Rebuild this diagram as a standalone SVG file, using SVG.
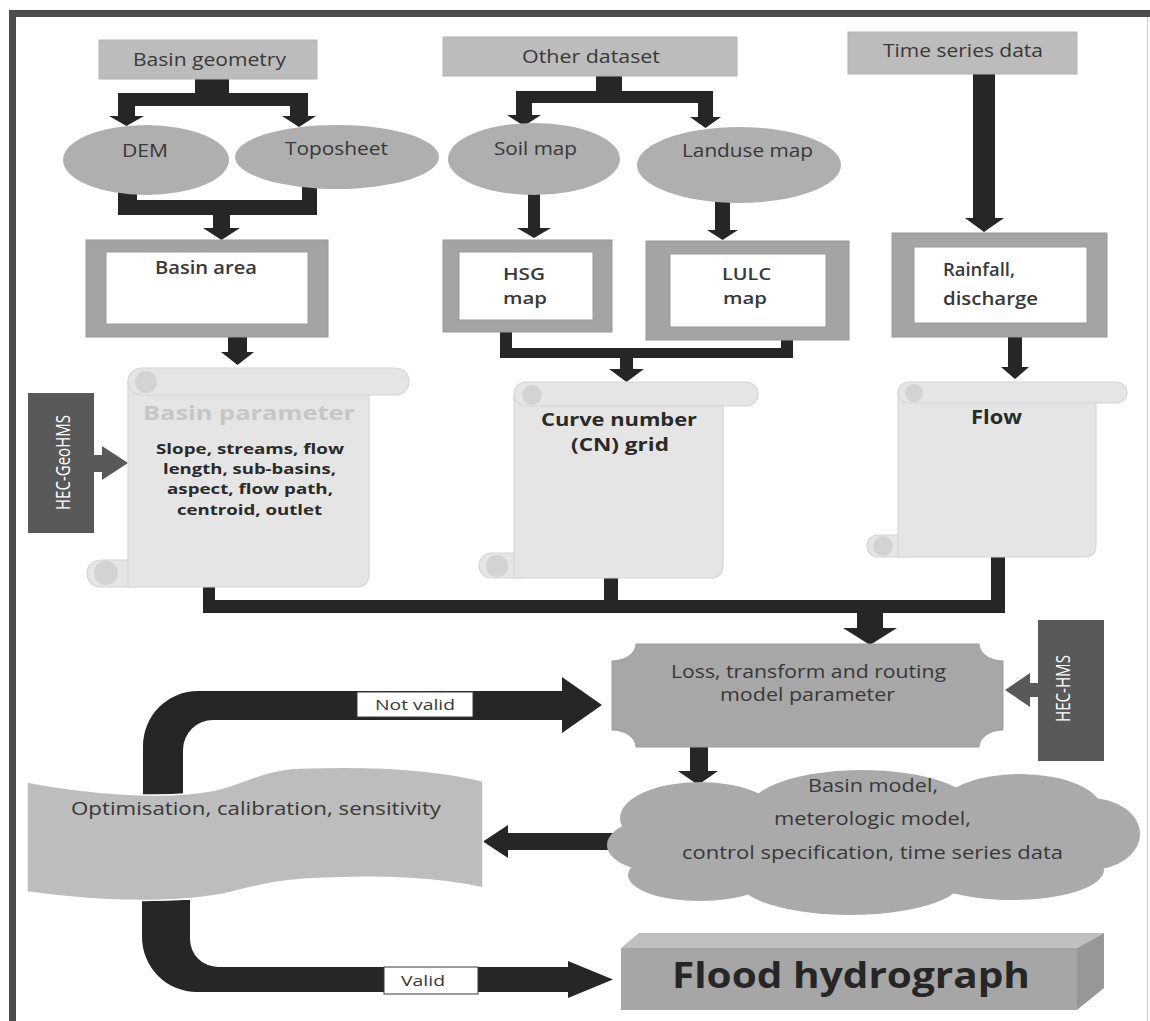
<svg xmlns="http://www.w3.org/2000/svg" width="1150" height="1021" viewBox="0 0 1150 1021">
<style>
text{font-family:"Open Sans","Noto Sans","Liberation Sans",sans-serif;fill:#383838;font-size:18px}
.c{text-anchor:middle}
.b{font-weight:bold;fill:#2a2a2a}
.sb{font-weight:600}
.w{fill:#ffffff}
.f14{font-size:14px}
.f15{font-size:15px}
.f17{font-size:17px}
.f19{font-size:19px}
.f20{font-size:20px}
.f36{font-size:36px}
.arr{fill:#262626}
.hec{fill:#595959}
.top{fill:#bcbcbc;stroke:#b2b2b2;stroke-width:1}
.ell{fill:#afafaf}
.frame{fill:#a4a4a4;stroke:#989898;stroke-width:1}
.inner{fill:#ffffff;stroke:#9a9a9a;stroke-width:1}
.scroll{fill:#e5e5e5;stroke:#d6d6d6;stroke-width:1.2}
.curl{fill:#d3d3d3}
.lbl{fill:#ffffff;stroke:#3a3a3a;stroke-width:1}
</style>
<rect x="0" y="0" width="1150" height="1021" fill="#ffffff"/>
<g id="page-frame">
<rect x="9" y="10" width="1141" height="7" fill="#4d4d4d"/>
<rect x="9" y="10" width="7" height="1011" fill="#4d4d4d"/>
<line x1="1147.5" y1="17" x2="1147.5" y2="1021" stroke="#cfcfcf" stroke-width="1"/>
</g>

<g id="connectors">
<!-- Basin geometry fork -->
<rect class="arr" x="195" y="79" width="34" height="20"/>
<rect class="arr" x="118" y="93" width="190" height="13"/>
<path class="arr" d="M118,93 L135,93 L135,116 L144,116 L126.5,126 L109,116 L118,116 Z"/>
<path class="arr" d="M290,93 L308,93 L308,116 L316,116 L299,127 L282,116 L290,116 Z"/>
<!-- DEM / Toposheet merge -->
<rect class="arr" x="118" y="188" width="19" height="27"/>
<rect class="arr" x="302" y="185" width="15" height="30"/>
<rect class="arr" x="118" y="200" width="199" height="15"/>
<path class="arr" d="M213,215 L230,215 L230,228 L240,228 L221.5,240 L203,228 L213,228 Z"/>
<!-- Basin area -> Basin parameter -->
<path class="arr" d="M228,337 L247,337 L247,352 L254,352 L237.5,365 L221,352 L228,352 Z"/>
<!-- Other dataset fork -->
<rect class="arr" x="596" y="76" width="26" height="20"/>
<rect class="arr" x="516" y="91" width="197" height="12"/>
<path class="arr" d="M516,91 L532,91 L532,115 L541,115 L524,126 L507,115 L516,115 Z"/>
<path class="arr" d="M698,91 L713,91 L713,117 L721,117 L705.5,128 L690,117 L698,117 Z"/>
<!-- Soil -> HSG, Landuse -> LULC -->
<path class="arr" d="M528,192 L540,192 L540,228 L551,228 L534,238 L517,228 L528,228 Z"/>
<path class="arr" d="M715,200 L730,200 L730,230 L738,230 L722.5,240 L707,230 L715,230 Z"/>
<!-- HSG / LULC merge -->
<rect class="arr" x="500" y="332" width="12" height="26"/>
<rect class="arr" x="781" y="336" width="12" height="22"/>
<rect class="arr" x="500" y="348" width="293" height="10"/>
<path class="arr" d="M620,358 L633,358 L633,369 L644,369 L626.5,382 L609,369 L620,369 Z"/>
<!-- Time series -> Rainfall -->
<path class="arr" d="M973,74 L995,74 L995,218 L1004,218 L984,232 L965,218 L973,218 Z"/>
<!-- Rainfall -> Flow -->
<path class="arr" d="M1008,337 L1022,337 L1022,367 L1029,367 L1015,379 L1001,367 L1008,367 Z"/>
<!-- collector to Loss box -->
<rect class="arr" x="203" y="585" width="12" height="28"/>
<rect class="arr" x="604" y="576" width="14" height="30"/>
<rect class="arr" x="991" y="555" width="14" height="58"/>
<rect class="arr" x="203" y="600" width="802" height="13"/>
<path class="arr" d="M857,613 L883,613 L883,628 L897,628 L870,645 L843,628 L857,628 Z"/>
<!-- HEC-GeoHMS arrow -->
<path class="hec" d="M94,455 L102,455 L102,446 L128,463 L102,480 L102,472 L94,472 Z"/>
<!-- HEC-HMS arrow -->
<path class="hec" d="M1040,683 L1030,683 L1030,673 L1005,690 L1030,707 L1030,697 L1040,697 Z"/>
<!-- Loss -> cloud -->
<path class="arr" d="M690,747 L708,747 L708,771 L718,771 L698,785 L678,771 L690,771 Z"/>
<!-- cloud -> optimisation -->
<path class="arr" d="M620,833 L508,833 L508,825 L483,841.5 L508,858 L508,850 L620,850 Z"/>
<!-- Not valid loop -->
<path class="arr" d="M143,796 L143,746 A55,55 0 0 1 198,691 L562,691 L562,677 L602,705 L562,733 L562,720 L213,720 A30,30 0 0 0 183,750 L183,796 Z"/>
<rect class="lbl" x="357" y="692" width="116" height="25"/>
<text class="c f14" x="415" y="710" textLength="80" lengthAdjust="spacingAndGlyphs">Not valid</text>
<!-- Valid loop -->
<path class="arr" d="M142,900 L142,937 A55,55 0 0 0 197,992 L568,992 L568,998 L613,979.5 L568,961 L568,967 L218,967 A28,28 0 0 1 190,939 L190,900 Z"/>
<rect class="lbl" x="384" y="967" width="94" height="27"/>
<text class="c f14" x="423" y="986" textLength="44" lengthAdjust="spacingAndGlyphs">Valid</text>
</g>

<g id="basin-geometry">
<rect class="top" x="99" y="40" width="218" height="39"/>
<text class="c" x="209.5" y="66" textLength="153" lengthAdjust="spacingAndGlyphs">Basin geometry</text>
</g>
<g id="other-dataset">
<rect class="top" x="443" y="37" width="294" height="39"/>
<text class="c" x="591" y="63" textLength="138" lengthAdjust="spacingAndGlyphs">Other dataset</text>
</g>
<g id="time-series-data">
<rect class="top" x="848" y="32" width="229" height="42"/>
<text class="c" x="963" y="57" textLength="160" lengthAdjust="spacingAndGlyphs">Time series data</text>
</g>

<g id="dem">
<ellipse class="ell" cx="146" cy="160" rx="83" ry="35"/>
<text class="c" x="145" y="157" textLength="46" lengthAdjust="spacingAndGlyphs">DEM</text>
</g>
<g id="toposheet">
<ellipse class="ell" cx="337" cy="157" rx="102" ry="32"/>
<text class="c" x="336.5" y="155" textLength="103" lengthAdjust="spacingAndGlyphs">Toposheet</text>
</g>
<g id="soil-map">
<ellipse class="ell" cx="534" cy="159" rx="86" ry="36"/>
<text class="c" x="535.5" y="155" textLength="83" lengthAdjust="spacingAndGlyphs">Soil map</text>
</g>
<g id="landuse-map">
<ellipse class="ell" cx="739" cy="165" rx="102" ry="38"/>
<text class="c" x="747.5" y="157" textLength="131" lengthAdjust="spacingAndGlyphs">Landuse map</text>
</g>

<g id="basin-area">
<rect class="frame" x="86" y="240" width="242" height="97"/>
<rect class="inner" x="106" y="252" width="202" height="72"/>
<text class="c sb" x="206" y="274" textLength="102" lengthAdjust="spacingAndGlyphs">Basin area</text>
</g>
<g id="hsg-map">
<rect class="frame" x="443" y="240" width="169" height="92"/>
<rect class="inner" x="459" y="252" width="134" height="68"/>
<text class="c sb f17" x="524" y="280" textLength="42" lengthAdjust="spacingAndGlyphs">HSG</text>
<text class="c sb f17" x="525" y="304" textLength="44" lengthAdjust="spacingAndGlyphs">map</text>
</g>
<g id="lulc-map">
<rect class="frame" x="646" y="241" width="203" height="99"/>
<rect class="inner" x="670" y="254" width="156" height="73"/>
<text class="c sb f17" x="746.5" y="280" textLength="49" lengthAdjust="spacingAndGlyphs">LULC</text>
<text class="c sb f17" x="745" y="304" textLength="44" lengthAdjust="spacingAndGlyphs">map</text>
</g>
<g id="rainfall-discharge">
<rect class="frame" x="892" y="233" width="215" height="104"/>
<rect class="inner" x="914" y="247" width="173" height="76"/>
<text class="sb" x="943" y="276" textLength="72" lengthAdjust="spacingAndGlyphs">Rainfall,</text>
<text class="sb" x="943" y="305" textLength="95" lengthAdjust="spacingAndGlyphs">discharge</text>
</g>

<g id="hec-geohms">
<rect class="hec" x="28" y="393" width="66" height="140"/>
<text class="c w f20" transform="translate(70,462.5) rotate(-90)" x="0" y="0" textLength="95" lengthAdjust="spacingAndGlyphs">HEC-GeoHMS</text>
</g>

<g id="basin-parameter">
<rect class="scroll" x="87" y="560" width="60" height="27" rx="13.5"/>
<path class="scroll" d="M128,381 L369,381 L369,574 Q369,587 356,587 L128,587 Z"/>
<rect class="scroll" x="128" y="368" width="281" height="27" rx="13.5"/>
<circle class="curl" cx="146" cy="382" r="11"/>
<circle class="curl" cx="106" cy="573" r="12"/>
<text class="c b f20" x="249" y="420" style="fill:#c6c6c6" textLength="212" lengthAdjust="spacingAndGlyphs">Basin parameter</text>
<text class="c b f15" x="250" y="454" textLength="188" lengthAdjust="spacingAndGlyphs">Slope, streams, flow</text>
<text class="c b f15" x="249.5" y="474" textLength="173" lengthAdjust="spacingAndGlyphs">length, sub-basins,</text>
<text class="c b f15" x="250" y="494" textLength="166" lengthAdjust="spacingAndGlyphs">aspect, flow path,</text>
<text class="c b f15" x="249.5" y="515" textLength="145" lengthAdjust="spacingAndGlyphs">centroid, outlet</text>
</g>

<g id="curve-number">
<rect class="scroll" x="479" y="553" width="55" height="25" rx="12.5"/>
<path class="scroll" d="M514,394 L723,394 L723,565 Q723,578 710,578 L514,578 Z"/>
<rect class="scroll" x="514" y="382" width="244" height="24" rx="12"/>
<circle class="curl" cx="532" cy="395" r="10"/>
<circle class="curl" cx="497" cy="566" r="11"/>
<text class="c b" x="619" y="426" textLength="156" lengthAdjust="spacingAndGlyphs">Curve number</text>
<text class="c b" x="620" y="451" textLength="98" lengthAdjust="spacingAndGlyphs">(CN) grid</text>
</g>

<g id="flow">
<rect class="scroll" x="867" y="535" width="50" height="22" rx="11"/>
<path class="scroll" d="M898,392 L1096,392 L1096,545 Q1096,557 1084,557 L898,557 Z"/>
<rect class="scroll" x="898" y="382" width="229" height="21" rx="10.5"/>
<circle class="curl" cx="914" cy="393" r="9"/>
<circle class="curl" cx="883" cy="546" r="10"/>
<text class="c b f19" x="996.5" y="424" textLength="51" lengthAdjust="spacingAndGlyphs">Flow</text>
</g>

<g id="loss-transform-routing">
<path d="M636,644 L979,644 A24,17 0 0 0 1003,661 L1003,730 A24,17 0 0 0 979,747 L636,747 A24,17 0 0 0 612,730 L612,661 A24,17 0 0 0 636,644 Z" fill="#a7a7a7" stroke="#9c9c9c" stroke-width="1"/>
<text class="c" x="808.5" y="678" textLength="275" lengthAdjust="spacingAndGlyphs">Loss, transform and routing</text>
<text class="c" x="807.5" y="701" textLength="175" lengthAdjust="spacingAndGlyphs">model parameter</text>
</g>

<g id="hec-hms">
<rect class="hec" x="1038" y="620" width="66" height="141"/>
<text class="c w f20" transform="translate(1070,688.5) rotate(-90)" x="0" y="0" textLength="67" lengthAdjust="spacingAndGlyphs">HEC-HMS</text>
</g>

<g id="basin-model-cloud" fill="#aaaaaa">
<ellipse cx="700" cy="818" rx="80" ry="36"/>
<ellipse cx="862" cy="808" rx="112" ry="38"/>
<ellipse cx="1020" cy="810" rx="82" ry="36"/>
<ellipse cx="1090" cy="834" rx="50" ry="36"/>
<ellipse cx="660" cy="845" rx="53" ry="27"/>
<ellipse cx="700" cy="875" rx="72" ry="26"/>
<ellipse cx="850" cy="880" rx="112" ry="35"/>
<ellipse cx="1012" cy="870" rx="92" ry="30"/>
<ellipse cx="870" cy="845" rx="235" ry="40"/>
<text class="c" x="873" y="792" textLength="130" lengthAdjust="spacingAndGlyphs">Basin model,</text>
<text class="c" x="872.5" y="825" textLength="197" lengthAdjust="spacingAndGlyphs">meterologic model,</text>
<text class="c" x="872.5" y="859" textLength="381" lengthAdjust="spacingAndGlyphs">control specification, time series data</text>
</g>

<g id="optimisation">
<path d="M27,782 C80,792 160,801 215,790 C245,784 258,770 300,768 C380,765 440,770 483,781 L483,888 C440,878 380,876 333,878 C285,879 265,884 240,890 C200,902 120,905 27,892 Z" fill="#bdbdbd" stroke="#ffffff" stroke-width="1.5"/>
<text class="c" x="256" y="815" textLength="370" lengthAdjust="spacingAndGlyphs">Optimisation, calibration, sensitivity</text>
</g>

<g id="flood-hydrograph">
<polygon points="621,948 639,933 1104,933 1077,948" fill="#c0c0c0"/>
<polygon points="1077,948 1104,933 1104,988 1077,1010" fill="#979797"/>
<rect x="621" y="948" width="456" height="62" fill="#a6a6a6"/>
<text class="c b f36" x="851" y="988" style="fill:#262626" textLength="358" lengthAdjust="spacingAndGlyphs">Flood hydrograph</text>
</g>
</svg>
